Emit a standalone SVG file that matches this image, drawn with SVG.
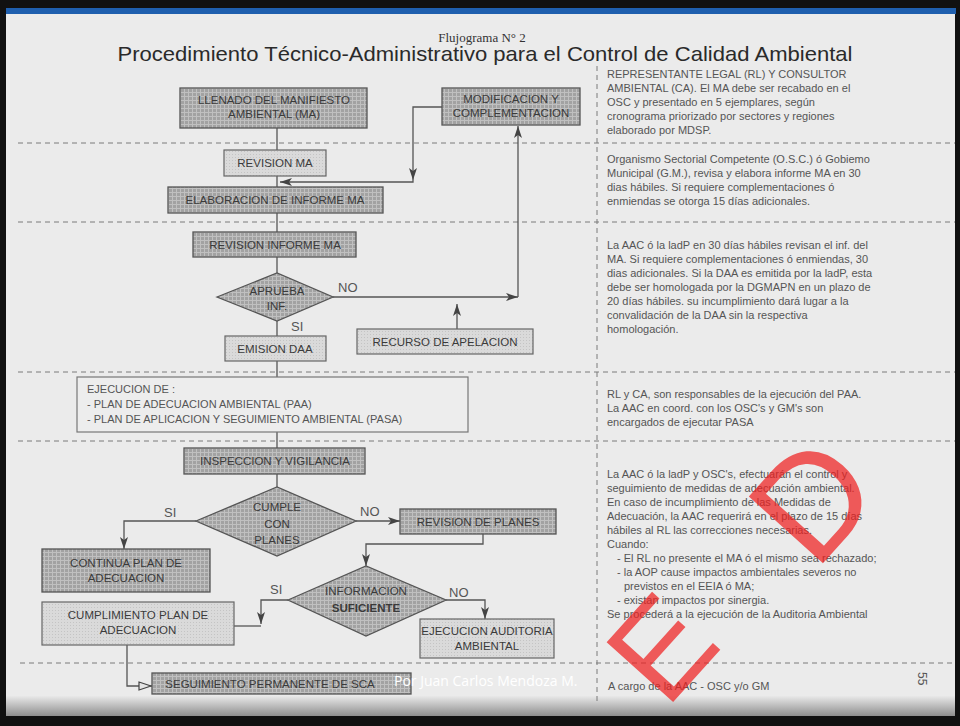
<svg xmlns="http://www.w3.org/2000/svg" width="960" height="726" viewBox="0 0 960 726">
<defs>
<pattern id="pd" width="4" height="4" patternUnits="userSpaceOnUse"><rect width="4" height="4" fill="#a2a2a2"/><path d="M0,0.5H4M0.5,0V4" stroke="#c0c0c0" stroke-width="1"/></pattern>
<pattern id="pl" width="3" height="3" patternUnits="userSpaceOnUse"><rect width="3" height="3" fill="#dadada"/><rect x="1" y="1" width="1" height="1" fill="#c4c4c4"/></pattern>
<linearGradient id="bot" x1="0" y1="0" x2="0" y2="1"><stop offset="0" stop-color="#e9e9e9"/><stop offset="1" stop-color="#8e8e8e"/></linearGradient>
<marker id="ar" viewBox="0 0 12 8" refX="12" refY="4" markerWidth="12" markerHeight="8" markerUnits="userSpaceOnUse" orient="auto"><path d="M0,0 L12,4 L0,8 L3,4 Z" fill="#444"/></marker>
<marker id="ao" viewBox="0 0 14 10" refX="14" refY="5" markerWidth="14" markerHeight="10" markerUnits="userSpaceOnUse" orient="auto"><path d="M1,1 L13,5 L1,9 Z" fill="#e4e4e4" stroke="#444" stroke-width="1.2"/></marker>
</defs>
<style>
.dk{fill:url(#pd);stroke:#555;stroke-width:1.3}
.lt{fill:url(#pl);stroke:#666;stroke-width:1.2}
.bt{font-family:"Liberation Sans",Arial,sans-serif;font-size:11.5px;fill:#3a3a3a;text-anchor:middle}
.rt{font-family:"Liberation Sans",Arial,sans-serif;font-size:11px;fill:#555}
.dash{stroke:#7a7a7a;stroke-width:1;stroke-dasharray:5,4;fill:none}
.cn{stroke:#555;stroke-width:1.3;fill:none}
.lb{font-family:"Liberation Sans",Arial,sans-serif;font-size:13px;fill:#555}
</style>
<rect width="960" height="726" fill="#111"/>
<rect x="6" y="8" width="950" height="6" fill="#1f5fae"/>
<rect x="6" y="14" width="949" height="702" fill="#ebebeb"/>
<rect x="6" y="696" width="949" height="20" fill="url(#bot)"/>

<text x="482" y="42" text-anchor="middle" font-family="Liberation Serif,serif" font-size="13" fill="#333">Flujograma N° 2</text>
<text x="485" y="61" text-anchor="middle" font-family="Liberation Sans,Arial,sans-serif" font-size="21" fill="#2a2a2a" textLength="735" lengthAdjust="spacingAndGlyphs">Procedimiento Técnico-Administrativo para el Control de Calidad Ambiental</text>

<g id="grid">
<path class="dash" d="M597,66V702" stroke-dasharray="3,4"/>
<path class="dash" d="M18,143H955"/>
<path class="dash" d="M18,222H955"/>
<path class="dash" d="M18,372H955"/>
<path class="dash" d="M18,441H955"/>
<path class="dash" d="M20,663H955"/>
</g>

<g id="notes" class="rt">
<text x="607" y="78">REPRESENTANTE  LEGAL (RL) Y CONSULTOR</text>
<text x="607" y="92">AMBIENTAL (CA). El MA debe ser recabado en el</text>
<text x="607" y="106">OSC y presentado en 5 ejemplares, según</text>
<text x="607" y="120">cronograma priorizado por sectores y regiones</text>
<text x="607" y="134">elaborado por MDSP.</text>
<text x="607" y="163">Organismo Sectorial Competente (O.S.C.) ó Gobiemo</text>
<text x="607" y="177">Municipal (G.M.), revisa y elabora informe MA en 30</text>
<text x="607" y="191">dias hábiles.  Si requiere complementaciones ó</text>
<text x="607" y="205">enmiendas se otorga 15 días adicionales.</text>
<text x="607" y="249">La AAC ó la ladP en 30 días hábiles revisan el inf. del</text>
<text x="607" y="263">MA.  Si requiere complementaciones ó enmiendas, 30</text>
<text x="607" y="277">dias adicionales.  Si la DAA  es emitida por la ladP, esta</text>
<text x="607" y="291">debe ser homologada por la DGMAPN  en un plazo de</text>
<text x="607" y="305">20 días hábiles. su incumplimiento dará lugar a la</text>
<text x="607" y="319">convalidación de la DAA sin la respectiva</text>
<text x="607" y="333">homologación.</text>
<text x="607" y="398">RL y CA, son responsables de la ejecución del PAA.</text>
<text x="607" y="412">La AAC en coord. con los OSC's  y GM's son</text>
<text x="607" y="426">encargados  de ejecutar PASA</text>
<text x="607" y="478">La AAC ó la ladP  y  OSC's, efectuarán el control y</text>
<text x="607" y="492">seguimiento de medidas de adecuación ambiental.</text>
<text x="607" y="506">En caso de incumplimiento de las Medidas de</text>
<text x="607" y="520">Adecuación, la AAC requerirá en el plazo de 15 días</text>
<text x="607" y="534">hábiles al RL las correcciones necesarias.</text>
<text x="607" y="548">Cuando:</text>
<text x="617" y="562">- El RL no presente el MA ó el mismo sea rechazado;</text>
<text x="617" y="576">- la AOP cause impactos ambientales severos no</text>
<text x="624" y="590">previstos en el EEIA ó MA;</text>
<text x="617" y="604">- existan impactos por sinergia.</text>
<text x="607" y="618">Se procederá a la ejecución de la Auditoria Ambiental</text>
<text x="608" y="690">A cargo de la AAC - OSC y/o GM</text>
<text x="0" y="0" transform="translate(918,672) rotate(90)" font-size="12">55</text>
</g>

<g id="connectors">
<path class="cn" d="M277,128V150"/>
<path class="cn" d="M277,176V187"/>
<path class="cn" d="M442,107H413V180" marker-end="url(#ar)"/>
<path class="cn" d="M413,180V182H280" marker-end="url(#ar)"/>
<path class="cn" d="M277,213V232"/>
<path class="cn" d="M277,257V273"/>
<path class="cn" d="M333,297H518" marker-end="url(#ar)"/>
<path class="cn" d="M518,297V126" marker-end="url(#ar)"/>
<path class="cn" d="M457,329V304" marker-end="url(#ar)"/>
<path class="cn" d="M277,321V336"/>
<path class="cn" d="M277,361V377"/>
<path class="cn" d="M277,432V448"/>
<path class="cn" d="M277,474V487"/>
<path class="cn" d="M196,521H124V549" marker-end="url(#ar)"/>
<path class="cn" d="M356,521H400" marker-end="url(#ar)"/>
<path class="cn" d="M483,534V544H366V566" marker-end="url(#ar)"/>
<path class="cn" d="M288,600H261V624" marker-end="url(#ar)"/>
<path class="cn" d="M261,626H234"/>
<path class="cn" d="M446,600H485V619" marker-end="url(#ar)"/>
<path class="cn" d="M127,645V686H152" marker-end="url(#ao)"/>
</g>

<g id="n-llenado"><rect class="dk" x="180" y="88" width="187" height="40"/><text class="bt" x="274" y="104">LLENADO DEL MANIFIESTO</text><text class="bt" x="274" y="118">AMBIENTAL  (MA)</text></g>
<g id="n-modif"><rect class="dk" x="442" y="88" width="138" height="37"/><text class="bt" x="511" y="103">MODIFICACION Y</text><text class="bt" x="511" y="117">COMPLEMENTACION</text></g>
<g id="n-revma"><rect class="lt" x="224" y="150" width="102" height="26"/><text class="bt" x="275" y="167">REVISION MA</text></g>
<g id="n-elab"><rect class="dk" x="168" y="187" width="215" height="26"/><text class="bt" x="275" y="204">ELABORACION DE INFORME MA</text></g>
<g id="n-revinf"><rect class="dk" x="193" y="232" width="163" height="25"/><text class="bt" x="275" y="249">REVISION INFORME MA</text></g>
<g id="n-aprueba"><path class="dk" d="M217,297L277,273L333,297L277,321Z"/><text class="bt" x="277" y="295" font-size="10.5">APRUEBA</text><text class="bt" x="277" y="310" font-size="10.5">INF.</text></g>
<text class="lb" x="338" y="292">NO</text>
<text class="lb" x="291" y="331">SI</text>
<g id="n-emision"><rect class="lt" x="225" y="336" width="101" height="25"/><text class="bt" x="275" y="353">EMISION DAA</text></g>
<g id="n-recurso"><rect class="lt" x="357" y="329" width="176" height="25"/><text class="bt" x="445" y="346">RECURSO DE APELACION</text></g>
<g id="n-ejec"><rect x="77" y="377" width="391" height="55" fill="#ededed" stroke="#777" stroke-width="1.2"/>
<text class="rt" x="87" y="393" font-size="11.5">EJECUCION DE :</text>
<text class="rt" x="87" y="408" font-size="11.5">- PLAN DE ADECUACION AMBIENTAL (PAA)</text>
<text class="rt" x="87" y="423" font-size="11.5">- PLAN DE APLICACION Y SEGUIMIENTO AMBIENTAL (PASA)</text></g>
<g id="n-insp"><rect class="dk" x="184" y="448" width="181" height="26"/><text class="bt" x="275" y="465">INSPECCION Y VIGILANCIA</text></g>
<g id="n-cumple"><path class="dk" d="M196,521L277,487L356,521L277,556Z"/><text class="bt" x="277" y="511" font-size="10.5">CUMPLE</text><text class="bt" x="277" y="528" font-size="14.5">CON</text><text class="bt" x="277" y="544" font-size="10.5">PLANES</text></g>
<text class="lb" x="164" y="517">SI</text>
<text class="lb" x="360" y="516">NO</text>
<g id="n-revpl"><rect class="dk" x="400" y="509" width="156" height="25"/><text class="bt" x="478" y="526">REVISION DE PLANES</text></g>
<g id="n-continua"><rect class="dk" x="42" y="549" width="168" height="43"/><text class="bt" x="126" y="567">CONTINUA PLAN DE</text><text class="bt" x="126" y="582">ADECUACION</text></g>
<g id="n-info"><path class="dk" d="M288,600L366,566L446,600L366,636Z"/><text class="bt" x="366" y="595" font-size="11">INFORMACION</text><text class="bt" x="366" y="612" font-size="15" font-weight="bold" fill="#444">SUFICIENTE</text></g>
<text class="lb" x="270" y="594">SI</text>
<text class="lb" x="449" y="597">NO</text>
<g id="n-cumpl"><rect class="lt" x="42" y="602" width="192" height="43"/><text class="bt" x="138" y="619">CUMPLIMIENTO PLAN DE</text><text class="bt" x="138" y="634">ADECUACION</text></g>
<g id="n-audit"><rect class="lt" x="420" y="619" width="134" height="39"/><text class="bt" x="487" y="635">EJECUCION AUDITORIA</text><text class="bt" x="487" y="650">AMBIENTAL</text></g>
<g id="n-seg"><rect class="dk" x="152" y="673" width="259" height="21"/><text class="bt" x="270" y="688">SEGUIMIENTO PERMANENTE DE SCA</text></g>

<text x="394" y="686" font-family="Open Sans,sans-serif" font-size="14" fill="#fff">Por Juan Carlos Mendoza M.</text>
<g id="watermark" font-family="Liberation Sans,Arial,sans-serif" fill="#ee2020" fill-opacity="0.72">
<text x="0" y="0" font-size="130" transform="translate(666,710) rotate(-48)">E</text>
<text x="0" y="0" font-size="145" transform="translate(815,572) rotate(-48)">D</text>
</g>
</svg>
